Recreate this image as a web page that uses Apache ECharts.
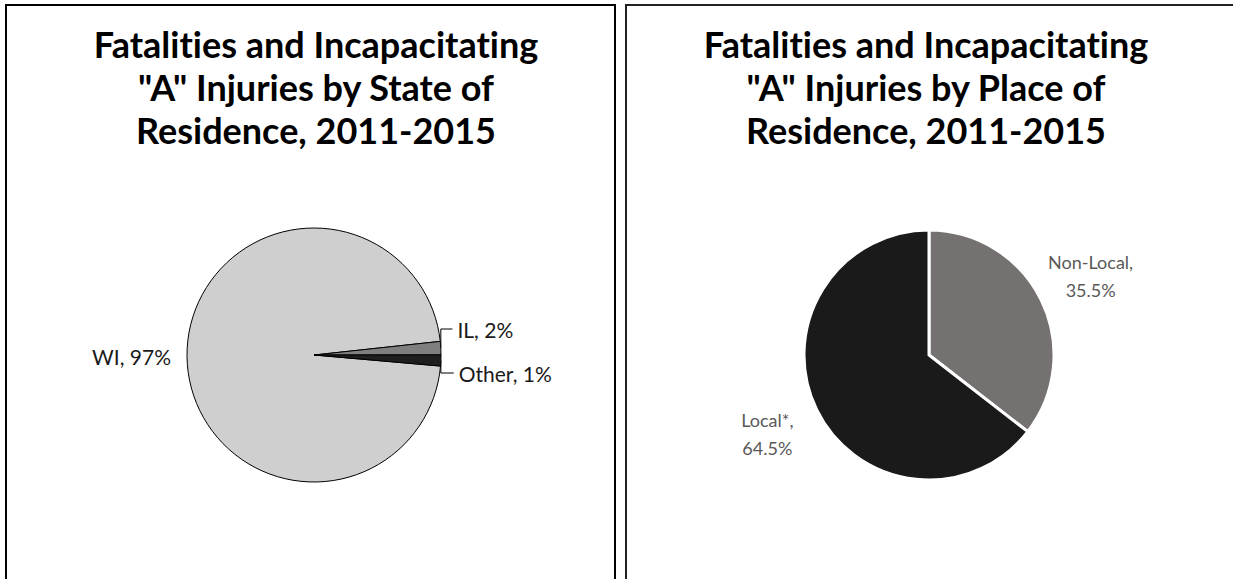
<!DOCTYPE html>
<html>
<head>
<meta charset="utf-8">
<script src="https://cdn.jsdelivr.net/npm/echarts@6/dist/echarts.min.js"></script>
<style>
  html, body { margin: 0; padding: 0; background: #fff; }
  #main { width: 1233px; height: 579px; }
  #main text { font-variant-ligatures: none; }
</style>
</head>
<body>
<div id="main"></div>
<script>
// left chart: state of residence
const stateNames = ['WI', 'IL', 'Other'];
const stateValues = [96.9, 1.7, 1.4];
const stateColors = ['#d0cfd0', '#7f7f7f', '#1e1e1e'];

// right chart: place of residence
const placeNames = ['Non-Local', 'Local*'];
const placeValues = [35.5, 64.5];
const placeColors = ['#757170', '#1a1a1a'];

const titleLeft = 'Fatalities and Incapacitating\n"A" Injuries by State of\nResidence, 2011-2015';
const titleRight = 'Fatalities and Incapacitating\n"A" Injuries by Place of\nResidence, 2011-2015';

const FONT = 'Lato, "Open Sans", sans-serif';

// svg renderer so the css above can switch off the Lato ligatures
let chart = echarts.init(document.getElementById('main'), null, { renderer: 'svg' });

let titleStyle = {
  fontFamily: FONT,
  fontWeight: 'bold',
  fontSize: 36,
  lineHeight: 43,
  color: '#000'
};

let option = {
  backgroundColor: '#fff',
  animation: false,
  title: [
    { text: titleLeft, left: 311, top: 17, textAlign: 'center', textStyle: titleStyle },
    { text: titleRight, left: 921, top: 17, textAlign: 'center', textStyle: titleStyle }
  ],
  // panel frames
  graphic: [
    {
      type: 'polyline',
      shape: { points: [[6, 600], [6, 5], [615, 5], [615, 600]] },
      style: { stroke: '#000', lineWidth: 2, fill: null }
    },
    {
      type: 'polyline',
      shape: { points: [[626, 600], [626, 5], [1240, 5]] },
      style: { stroke: '#222', lineWidth: 2, fill: null }
    }
  ],
  series: [
    {
      name: 'State',
      type: 'pie',
      // box bottom keeps the two small labels spread around the 3 o'clock edge
      left: 0,
      top: 0,
      width: 620,
      height: 395,
      center: [314, 355],
      radius: 127,
      startAngle: -5,
      clockwise: true,
      avoidLabelOverlap: true,
      itemStyle: { borderColor: '#000', borderWidth: 1 },
      label: {
        show: true,
        position: 'outside',
        fontFamily: FONT,
        fontSize: 21,
        lineHeight: 42,
        color: '#1a1a1a',
        distanceToLabelLine: 5,
        formatter: function (p) {
          return p.name + ', ' + Math.round(p.percent) + '%';
        }
      },
      labelLine: {
        show: true,
        length: 5,
        length2: 14,
        lineStyle: { color: '#000', width: 1 }
      },
      emphasis: { disabled: true },
      data: stateNames.map(function (n, i) {
        let item = { name: n, value: stateValues[i], itemStyle: { color: stateColors[i] } };
        if (i === 0) {
          item.labelLine = { show: false, length: 6, length2: 6 };
          item.label = { lineHeight: 24, distanceToLabelLine: 4 };
        }
        return item;
      })
    },
    {
      name: 'Place',
      type: 'pie',
      center: [929, 355],
      radius: 125,
      startAngle: 90,
      clockwise: true,
      avoidLabelOverlap: false,
      itemStyle: { borderColor: '#fff', borderWidth: 3 },
      label: {
        show: true,
        position: 'outside',
        fontFamily: FONT,
        fontSize: 18,
        lineHeight: 28,
        color: '#595959',
        distanceToLabelLine: 0,
        formatter: function (p) {
          return p.name + ',\n' + p.percent.toFixed(1) + '%';
        }
      },
      labelLine: { show: false, length: 55, length2: 0 },
      labelLayout: { align: 'center', verticalAlign: 'middle' },
      emphasis: { disabled: true },
      data: placeNames.map(function (n, i) {
        return { name: n, value: placeValues[i], itemStyle: { color: placeColors[i] } };
      })
    }
  ]
};

option && chart.setOption(option);
</script>
</body>
</html>
